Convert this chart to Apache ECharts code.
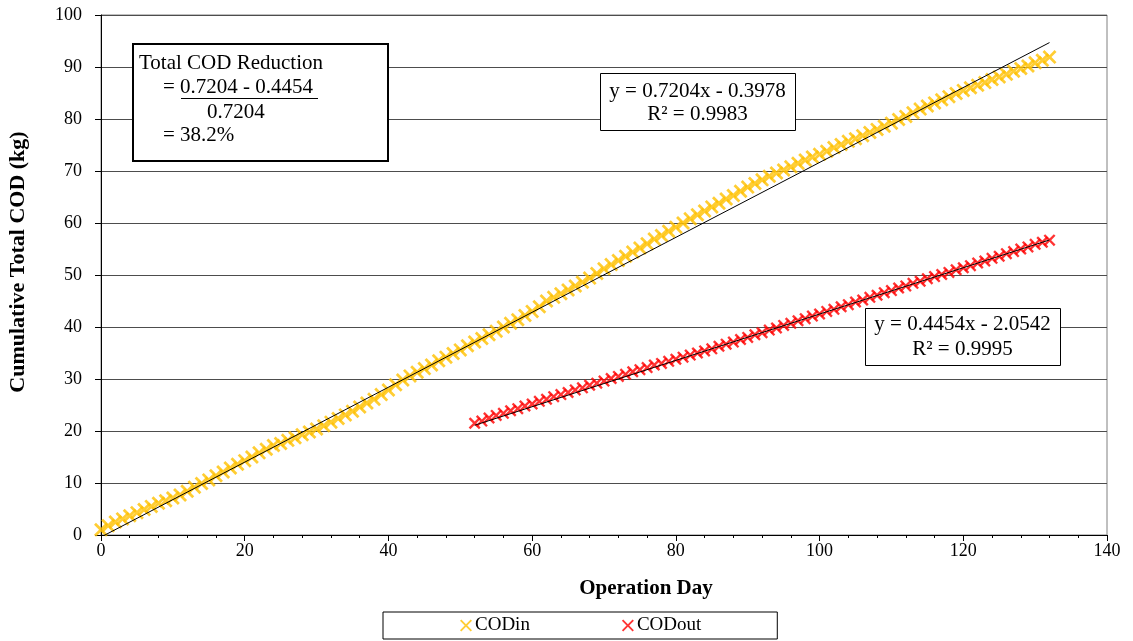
<!DOCTYPE html>
<html>
<head>
<meta charset="utf-8">
<script src="https://cdn.jsdelivr.net/npm/echarts@6/dist/echarts.min.js"></script>
<style>
  html, body { margin: 0; padding: 0; background: #ffffff; }
  #chart { width: 1133px; height: 641px; }
</style>
</head>
<body>
<div id="chart"></div>
<script>
// Cumulative total COD (kg), one reading per operation day
const codInStartDay = 0;
const codInValues = [
  1.0, 1.8, 2.5, 3.1, 3.7, 4.3, 4.9, 5.5, 6.1, 6.6,
  7.1, 7.7, 8.4, 9.2, 9.9, 10.6, 11.4, 12.1, 12.9, 13.6,
  14.3, 15.0, 15.8, 16.5, 17.2, 17.6, 18.2, 18.7, 19.3, 19.8,
  20.4, 21.0, 21.7, 22.4, 23.1, 23.8, 24.6, 25.4, 26.1, 27.0,
  27.9, 28.9, 29.8, 30.6, 31.3, 32.0, 32.7, 33.5, 34.2, 34.9,
  35.6, 36.4, 37.1, 37.8, 38.5, 39.2, 40.0, 40.7, 41.4, 42.2,
  43.0, 43.9, 45.0, 45.7, 46.4, 47.1, 47.9, 48.6, 49.4, 50.3,
  51.2, 52.0, 52.8, 53.6, 54.4, 55.2, 56.0, 56.9, 57.6, 58.4,
  59.2, 60.0, 60.8, 61.6, 62.3, 63.1, 63.8, 64.6, 65.3, 66.1,
  66.9, 67.6, 68.3, 69.0, 69.6, 70.2, 70.8, 71.5, 72.1, 72.7,
  73.2, 73.8, 74.5, 75.1, 75.7, 76.2, 76.8, 77.4, 78.0, 78.6,
  79.2, 79.9, 80.5, 81.2, 81.9, 82.5, 83.1, 83.7, 84.3, 84.9,
  85.5, 86.0, 86.5, 87.0, 87.6, 88.1, 88.6, 89.2, 89.7, 90.2,
  90.8, 91.3, 91.9
];
const codOutStartDay = 52;
const codOutValues = [
  21.5, 21.9, 22.5, 23.0, 23.4, 23.9, 24.3, 24.8, 25.2, 25.7,
  26.1, 26.6, 27.0, 27.4, 27.9, 28.3, 28.8, 29.2, 29.6, 30.1,
  30.5, 30.9, 31.4, 31.8, 32.2, 32.7, 33.0, 33.4, 33.8, 34.2,
  34.6, 35.0, 35.4, 35.8, 36.3, 36.7, 37.1, 37.6, 38.0, 38.5,
  38.9, 39.4, 39.8, 40.3, 40.7, 41.2, 41.6, 42.1, 42.5, 43.0,
  43.4, 43.9, 44.3, 44.8, 45.2, 45.7, 46.1, 46.6, 47.0, 47.5,
  47.9, 48.4, 48.8, 49.3, 49.7, 50.1, 50.5, 51.0, 51.4, 51.8,
  52.3, 52.7, 53.2, 53.6, 54.1, 54.5, 55.0, 55.4, 55.9, 56.3,
  56.7
];

// Linear trend lines (CODin, CODout)
const trendSlopes = [0.7204, 0.4454];
const trendIntercepts = [-0.3978, -2.0542];
const trendR2 = ['0.9983', '0.9995'];
const trendStartDays = [0, 52];
const trendEndDays = [132, 132];

const seriesNames = ['CODin', 'CODout'];
const seriesColors = ['#FFC000', '#FF0000'];

const SERIF = '"Liberation Serif", "Times New Roman", serif';
const CROSS = 'path://M0,14L14,0L50,36L86,0L100,14L64,50L100,86L86,100L50,64L14,100L0,86L36,50Z';
const CROSS_THIN = 'path://M0,11L11,0L50,39L89,0L100,11L61,50L100,89L89,100L50,61L11,100L0,89L39,50Z';

function toPoints(startDay, values) {
  return values.map((v, i) => [startDay + i, v]);
}

function trendPoints(k) {
  const a = trendSlopes[k], b = trendIntercepts[k];
  return [trendStartDays[k], trendEndDays[k]].map(x => [x, a * x + b]);
}

function fmtEq(k) {
  const b = trendIntercepts[k];
  return 'y = ' + trendSlopes[k].toFixed(4) + 'x ' + (b < 0 ? '- ' : '+ ') + Math.abs(b).toFixed(4);
}

const reductionPct = ((trendSlopes[0] - trendSlopes[1]) / trendSlopes[0] * 100).toFixed(1);

function txt(x, y, text, size, align, extra) {
  return Object.assign({
    type: 'text', x: x, y: y, z: 100,
    style: { text: text, fill: '#000', font: (extra && extra.bold ? 'bold ' : '') + size + 'px ' + SERIF, align: align || 'left', verticalAlign: 'middle' }
  }, extra && extra.rotation ? { rotation: extra.rotation } : {});
}

function box(x, y, w, h, lw) {
  return { type: 'rect', z: 99, shape: { x: x, y: y, width: w, height: h }, style: { fill: '#fff', stroke: '#000', lineWidth: lw } };
}

const chart = echarts.init(document.getElementById('chart'), null, { renderer: 'canvas' });

const option = {
  backgroundColor: '#ffffff',
  animation: false,
  grid: {
    left: 101, right: 26, top: 15, bottom: 106,
    show: true, borderColor: '#808080', borderWidth: 1, backgroundColor: '#ffffff'
  },
  xAxis: {
    type: 'value', min: 0, max: 140, interval: 20,
    axisLine: { show: true, onZero: false, lineStyle: { color: '#000', width: 1 } },
    axisTick: { show: true, inside: false, length: 6, lineStyle: { color: '#000' } },
    minorTick: { show: true, splitNumber: 5, length: 3, lineStyle: { color: '#000' } },
    splitLine: { show: false },
    axisLabel: { color: '#000', fontFamily: SERIF, fontSize: 18, margin: 7 }
  },
  yAxis: {
    type: 'value', min: 0, max: 100, interval: 10,
    axisLine: { show: true, onZero: false, lineStyle: { color: '#000', width: 1 } },
    axisTick: { show: true, inside: false, length: 6, lineStyle: { color: '#000' } },
    splitLine: { show: true, lineStyle: { color: '#4d4d4d', width: 1 } },
    axisLabel: { color: '#000', fontFamily: SERIF, fontSize: 18, margin: 19 }
  },
  legend: {
    data: seriesNames,
    left: 383, top: 612,
    icon: CROSS_THIN,
    itemWidth: 12, itemHeight: 12,
    itemGap: 92,
    padding: [4, 76, 4, 77],
    borderColor: '#000', borderWidth: 1,
    textStyle: { color: '#000', fontFamily: SERIF, fontSize: 19, padding: [0, 0, 0, -2] },
    selectedMode: false
  },
  series: [
    {
      name: seriesNames[0], type: 'scatter', symbol: CROSS, symbolSize: 14,
      itemStyle: { color: seriesColors[0] }, z: 2,
      data: toPoints(codInStartDay, codInValues)
    },
    {
      name: seriesNames[1], type: 'scatter', symbol: CROSS, symbolSize: 12,
      itemStyle: { color: seriesColors[1] }, z: 2,
      data: toPoints(codOutStartDay, codOutValues)
    },
    {
      name: 'Linear (CODin)', type: 'line', showSymbol: false, silent: true, clip: true, z: 3,
      lineStyle: { color: '#000', width: 1 }, data: trendPoints(0)
    },
    {
      name: 'Linear (CODout)', type: 'line', showSymbol: false, silent: true, clip: true, z: 3,
      lineStyle: { color: '#000', width: 1 }, data: trendPoints(1)
    }
  ],
  graphic: [
    // axis titles
    txt(646, 589, 'Operation Day', 21, 'center', { bold: true }),
    txt(18, 262, 'Cumulative Total COD (kg)', 22, 'center', { bold: true, rotation: Math.PI / 2 }),

    // reduction note
    box(133, 44, 255, 117, 2),
    txt(139, 63.5, 'Total COD Reduction', 21, 'left'),
    txt(163, 87, '= ' + trendSlopes[0].toFixed(4) + ' - ' + trendSlopes[1].toFixed(4), 21, 'left'),
    { type: 'line', z: 100, shape: { x1: 181, y1: 98.5, x2: 318, y2: 98.5 }, style: { stroke: '#000', lineWidth: 1 } },
    txt(207, 112, trendSlopes[0].toFixed(4), 21, 'left'),
    txt(163, 135, '= ' + reductionPct + '%', 21, 'left'),

    // trend equation labels
    box(600.5, 73.5, 195, 57, 1),
    txt(697.5, 91, fmtEq(0), 21, 'center'),
    txt(697.5, 114.5, 'R² = ' + trendR2[0], 21, 'center'),
    box(865.5, 308.5, 195, 57, 1),
    txt(962.5, 324.5, fmtEq(1), 21, 'center'),
    txt(962.5, 349, 'R² = ' + trendR2[1], 21, 'center')
  ]
};

chart.setOption(option);
</script>
</body>
</html>
